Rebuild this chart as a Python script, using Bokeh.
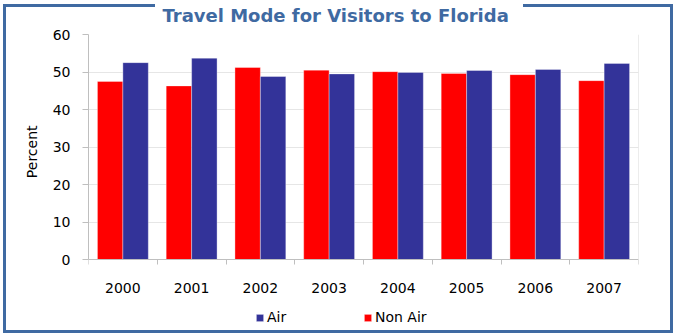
from bokeh.plotting import figure
from bokeh.models import (FixedTicker, Legend, LegendItem, LinearAxis, Title,
                          ColumnDataSource, Range1d)
from bokeh.transform import dodge
from bokeh.embed import file_html
from bokeh.resources import INLINE

# ---- data -------------------------------------------------------------
years = ["2000", "2001", "2002", "2003", "2004", "2005", "2006", "2007"]
air = [52.5, 53.7, 48.8, 49.5, 49.9, 50.4, 50.7, 52.3]
non_air = [47.5, 46.3, 51.2, 50.5, 50.1, 49.6, 49.3, 47.7]
y_ticks = [0, 10, 20, 30, 40, 50, 60]

FONT = "DejaVu Sans"
BLUE = "#333399"
RED = "#FF0000"
FRAME = "#3F6AA2"
SHIFT = 6  # figure is drawn SHIFT px taller at the top and moved up by it

pos = [i + 0.5 for i in range(len(years))]
src = ColumnDataSource(dict(x=pos, year=years, air=air, non_air=non_air))

# outer blue frame, open behind the title (drawn with CSS on the figure)
frame_css = """
:host { position: relative; background: white; transform: translateY(-%(s)dpx); }
:host::after {
  content: "";
  position: absolute;
  left: 3px; top: %(t)dpx; right: 3px; bottom: 1px;
  border: 3px solid %(c)s;
  border-top: none;
  background:
    linear-gradient(%(c)s, %(c)s) left top / 149px 3px no-repeat,
    linear-gradient(%(c)s, %(c)s) right top / 147px 3px no-repeat;
  pointer-events: none;
}
""" % {"c": FRAME, "s": SHIFT, "t": 4 + SHIFT}

# the frame reaches down to the legend; value 0 sits 225 px below value 60
p = figure(width=676, height=334 + SHIFT, output_backend="svg",
           toolbar_location=None,
           x_range=Range1d(0, len(years)), y_range=Range1d(-17.6, 60),
           min_border_left=88, min_border_right=38, min_border_top=34 + SHIFT,
           min_border_bottom=9, stylesheets=[frame_css])
p.border_fill_alpha = 0
p.background_fill_color = "white"
p.outline_line_color = None

r_non = p.vbar(x=dodge("x", -0.185, range=p.x_range), top="non_air", width=0.37,
               source=src, fill_color=RED, line_color="white", line_alpha=0.35)
r_air = p.vbar(x=dodge("x", 0.185, range=p.x_range), top="air", width=0.37,
               source=src, fill_color=BLUE, line_color="white", line_alpha=0.35)

# ---- title ------------------------------------------------------------
p.title.text = "Travel Mode for Visitors to Florida"
p.title.align = "left"
p.title.offset = 74
p.title.standoff = 17
p.title.text_font = FONT
p.title.text_font_size = "18px"
p.title.text_font_style = "bold"
p.title.text_color = FRAME

# ---- axes -------------------------------------------------------------
p.xgrid.visible = False
p.ygrid.grid_line_color = "#E6E6E6"

xa = p.xaxis[0]
xa.fixed_location = 0
xa.ticker = FixedTicker(ticks=pos, minor_ticks=list(range(len(years) + 1)))
xa.major_label_overrides = {x: y for x, y in zip(pos, years)}
xa.major_tick_line_color = None
xa.major_tick_out = 0
xa.major_tick_in = 0
xa.minor_tick_out = 5
xa.minor_tick_in = 0
xa.minor_tick_line_color = "#BFBFBF"
xa.axis_line_color = "#BFBFBF"
xa.major_label_standoff = 18
xa.major_label_text_font = FONT
xa.major_label_text_font_size = "14px"
xa.major_label_text_color = "black"

ya = p.yaxis[0]
ya.ticker = FixedTicker(ticks=y_ticks)
ya.bounds = (0, 60)
ya.major_tick_out = 6
ya.major_tick_in = 0
ya.major_tick_line_color = "#BFBFBF"
ya.minor_tick_line_color = None
ya.axis_line_color = "#BFBFBF"
ya.major_label_standoff = 12
ya.major_label_text_font = FONT
ya.major_label_text_font_size = "14px"
ya.major_label_text_color = "black"

# y-axis title, placed beside the 0..60 part of the axis
y_title = Title(text="Percent", align="right", offset=91, standoff=20,
                text_font=FONT, text_font_size="14px",
                text_font_style="normal", text_color="black")
p.add_layout(y_title, "left")

# right edge of the plotting area
edge = LinearAxis(fixed_location=len(years), bounds=(0, 60),
                  ticker=FixedTicker(ticks=[]), axis_line_color="#D9D9D9",
                  major_tick_line_color=None, minor_tick_line_color=None,
                  major_label_text_font_size="0px")
p.add_layout(edge, "right")

# ---- legend -----------------------------------------------------------
legend = Legend(items=[LegendItem(label="Air", renderers=[r_air]),
                       LegendItem(label="Non Air", renderers=[r_non])],
                orientation="horizontal", location="bottom",
                glyph_width=9, glyph_height=9, label_standoff=3,
                label_width=96, spacing=0,
                padding=0, margin=0, border_line_color=None,
                background_fill_alpha=0,
                label_text_font=FONT, label_text_font_size="14px",
                label_text_color="black")
p.add_layout(legend)

open("out.html", "w").write(file_html(p, INLINE))
